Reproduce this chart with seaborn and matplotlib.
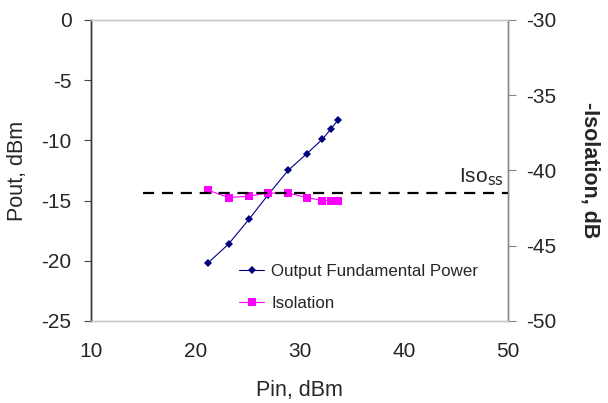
import pandas as pd
import seaborn as sns
import matplotlib.pyplot as plt

# data
pin = [21.2, 23.2, 25.2, 27.0, 28.9, 30.7, 32.2, 33.0, 33.7]
pout = [-20.2, -18.6, -16.5, -14.5, -12.5, -11.1, -9.9, -9.05, -8.3]
isolation = [-41.3, -41.8, -41.7, -41.5, -41.5, -41.8, -42.0, -42.0, -42.0]
iso_ss = -41.5
iso_ss_start = 15

x_ticks = [10, 20, 30, 40, 50]
left_ticks = [0, -5, -10, -15, -20, -25]
right_ticks = [-30, -35, -40, -45, -50]

df = pd.DataFrame({'Pin': pin, 'Pout': pout, 'Isolation': isolation})

sns.set_style('white')
plt.rcParams['font.family'] = ['Liberation Sans', 'DejaVu Sans']
plt.rcParams['axes.unicode_minus'] = False

fig = plt.figure(figsize=(6.08, 4.03), dpi=100)
ax = fig.add_axes([0.1497, 0.2035, 0.6859, 0.7469])
ax2 = ax.twinx()

sns.lineplot(data=df, x='Pin', y='Pout', ax=ax, color='#000080', marker='D',
             markersize=4.5, markeredgewidth=0, linewidth=0.8,
             label='Output Fundamental Power', legend=False)
sns.lineplot(data=df, x='Pin', y='Isolation', ax=ax2, color='#FF00FF', marker='s',
             markersize=6, markeredgewidth=0, linewidth=0.8,
             label='Isolation', legend=False)

ax2.hlines(iso_ss, iso_ss_start, 50, colors='black', linestyles=(0, (5, 3.5)), linewidth=1.6)
ax2.text(49.6, iso_ss + 0.35, r'Iso$_{\mathrm{ss}}$', ha='right', va='bottom', fontsize=15)

ax.set_xlim(10, 50)
ax.set_ylim(-25, 0)
ax2.set_ylim(-50, -30)
ax.set_xticks(x_ticks)
ax.set_yticks(left_ticks)
ax2.set_yticks(right_ticks)

ax.tick_params(axis='x', labelsize=15, length=5, width=0.8, color='#888888', pad=10, direction='out')
ax.tick_params(axis='y', labelsize=15, length=5, width=0.8, color='#444444', pad=9, direction='out', left=True)
ax2.tick_params(axis='y', labelsize=15, length=6, width=0.8, color='#888888', pad=7, direction='out', right=True)

for a in (ax, ax2):
    a.spines['top'].set_color('#c8c8c8')
    a.spines['bottom'].set_color('#c8c8c8')
    a.spines['left'].set_color('#333333')
    a.spines['right'].set_color('#888888')
    for s in a.spines.values():
        s.set_linewidth(1.0)

ax.set_xlabel('Pin, dBm', fontsize=15.5)
ax.set_ylabel('Pout, dBm', fontsize=15.5)
ax2.set_ylabel('-Isolation, dB', fontsize=15.5, fontweight='bold', rotation=270)
ax.xaxis.set_label_coords(0.5, -0.195)
ax.yaxis.set_label_coords(-0.15, 0.5)
ax2.yaxis.set_label_coords(1.222, 0.5)

h1, l1 = ax.get_legend_handles_labels()
h2, l2 = ax2.get_legend_handles_labels()
ax2.legend(h1 + h2, l1 + l2, loc='lower left', bbox_to_anchor=(0.318, -0.017),
           frameon=False, fontsize=12.2, handlelength=1.5, handletextpad=0.4,
           labelspacing=1.0)

fig.savefig('out.png', dpi=100)
plt.close(fig)
